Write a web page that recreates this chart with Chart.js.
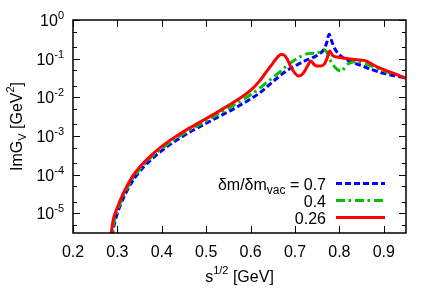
<!DOCTYPE html>
<html>
<head>
<meta charset="utf-8">
<script src="https://cdn.jsdelivr.net/npm/chart.js@4"></script>
<style>
  html, body { margin: 0; padding: 0; background: #fff; }
  canvas { display: block; }
</style>
</head>
<body>
<canvas id="plot" width="436" height="305"></canvas>
<script>
// axis ticks
const xTicks = [0.2, 0.3, 0.4, 0.5, 0.6, 0.7, 0.8, 0.9];
const yTicks = [1, 1e-1, 1e-2, 1e-3, 1e-4, 1e-5];
const yExponents = ['0', '-1', '-2', '-3', '-4', '-5'];
const yMinorTicks = [5e-1, 2e-1, 5e-2, 2e-2, 5e-3, 2e-3, 5e-4, 2e-4, 5e-5, 2e-5, 5e-6];

// dm/dm_vac = 0.7
const blueX = [0.285, 0.29, 0.30, 0.31, 0.32, 0.33, 0.34, 0.36, 0.38, 0.40, 0.42, 0.44, 0.46, 0.48, 0.50, 0.52, 0.54, 0.56, 0.58, 0.60, 0.62, 0.64, 0.66, 0.68, 0.70, 0.72, 0.74, 0.755, 0.765, 0.771, 0.777, 0.783, 0.79, 0.80, 0.82, 0.85, 0.87, 0.90, 0.95];
const blueY = [1.5e-6, 3.55e-6, 1.0e-5, 2.0e-5, 3.55e-5, 5.75e-5, 8.51e-5, 1.62e-4, 2.69e-4, 4.17e-4, 6.17e-4, 8.71e-4, 1.2e-3, 1.62e-3, 2.14e-3, 2.82e-3, 3.72e-3, 4.9e-3, 6.61e-3, 9.12e-3, 0.0129, 0.02, 0.0316, 0.0479, 0.0646, 0.0851, 0.107, 0.132, 0.174, 0.251, 0.427, 0.275, 0.178, 0.126, 0.0891, 0.0661, 0.0537, 0.0417, 0.0316];

// dm/dm_vac = 0.4
const greenX = [0.284, 0.29, 0.30, 0.31, 0.32, 0.33, 0.34, 0.36, 0.38, 0.40, 0.42, 0.44, 0.46, 0.48, 0.50, 0.52, 0.54, 0.56, 0.58, 0.60, 0.62, 0.64, 0.66, 0.68, 0.70, 0.715, 0.73, 0.75, 0.765, 0.773, 0.78, 0.79, 0.80, 0.806, 0.812, 0.82, 0.84, 0.87, 0.90, 0.95];
const greenY = [1.5e-6, 4.47e-6, 1.17e-5, 2.34e-5, 4.07e-5, 6.61e-5, 9.77e-5, 1.86e-4, 3.09e-4, 4.79e-4, 7.08e-4, 1.0e-3, 1.38e-3, 1.86e-3, 2.45e-3, 3.31e-3, 4.47e-3, 6.03e-3, 8.32e-3, 0.0117, 0.017, 0.0263, 0.0398, 0.0631, 0.0933, 0.117, 0.135, 0.141, 0.17, 0.141, 0.0891, 0.0603, 0.049, 0.0479, 0.0603, 0.0741, 0.0832, 0.0661, 0.049, 0.0316];

// dm/dm_vac = 0.26
const redX = [0.283, 0.29, 0.30, 0.31, 0.32, 0.33, 0.34, 0.36, 0.38, 0.40, 0.42, 0.44, 0.46, 0.48, 0.50, 0.52, 0.54, 0.56, 0.58, 0.60, 0.62, 0.635, 0.65, 0.66, 0.668, 0.675, 0.682, 0.69, 0.70, 0.708, 0.715, 0.722, 0.73, 0.736, 0.743, 0.75, 0.758, 0.766, 0.772, 0.778, 0.785, 0.795, 0.82, 0.84, 0.86, 0.87, 0.89, 0.92, 0.95];
const redY = [1.5e-6, 6.31e-6, 1.41e-5, 2.69e-5, 4.68e-5, 7.59e-5, 1.12e-4, 2.09e-4, 3.47e-4, 5.37e-4, 7.94e-4, 1.12e-3, 1.55e-3, 2.09e-3, 2.82e-3, 3.8e-3, 5.25e-3, 7.24e-3, 0.0102, 0.0151, 0.0263, 0.0447, 0.0759, 0.107, 0.129, 0.126, 0.1, 0.0631, 0.0417, 0.0355, 0.038, 0.0479, 0.0708, 0.0871, 0.0708, 0.0646, 0.0646, 0.0724, 0.1, 0.158, 0.12, 0.11, 0.1, 0.0933, 0.0871, 0.0759, 0.0575, 0.0427, 0.0309];

const legendLabels = ['0.7', '0.4', '0.26'];
const FONT = '"Liberation Sans", Arial, sans-serif';

const toPoints = (xs, ys) => xs.map((x, i) => ({x: x, y: ys[i]}));

// draws a list of text runs, each {t, size, dy}
const drawRuns = (ctx, runs, x, y, align) => {
    let total = 0;
    runs.forEach((r) => {
        ctx.font = r.size + 'px ' + FONT;
        r.w = ctx.measureText(r.t).width;
        total += r.w;
    });
    let cx = x;
    if (align === 'right') cx = x - total;
    if (align === 'center') cx = x - total / 2;
    ctx.textAlign = 'left';
    ctx.textBaseline = 'alphabetic';
    runs.forEach((r) => {
        ctx.font = r.size + 'px ' + FONT;
        ctx.fillText(r.t, cx, y + (r.dy || 0));
        cx += r.w;
    });
}

const framePlugin = {
    id: 'frame',
    afterDraw(chart) {
        const ctx = chart.ctx;
        const a = chart.chartArea;
        const xs = chart.scales.x;
        const ys = chart.scales.y;
        ctx.save();
        ctx.strokeStyle = '#000';
        ctx.fillStyle = '#000';
        ctx.lineWidth = 1;

        // ticks on all four sides, pointing inwards
        ctx.beginPath();
        xTicks.forEach((v) => {
            const px = Math.round(xs.getPixelForValue(v)) + 0.5;
            ctx.moveTo(px, a.bottom); ctx.lineTo(px, a.bottom - 7);
            ctx.moveTo(px, a.top); ctx.lineTo(px, a.top + 7);
        });
        yTicks.forEach((v) => {
            const py = Math.round(ys.getPixelForValue(v)) + 0.5;
            ctx.moveTo(a.left, py); ctx.lineTo(a.left + 7, py);
            ctx.moveTo(a.right, py); ctx.lineTo(a.right - 7, py);
        });
        yMinorTicks.forEach((v) => {
            const py = Math.round(ys.getPixelForValue(v)) + 0.5;
            ctx.moveTo(a.left, py); ctx.lineTo(a.left + 4, py);
            ctx.moveTo(a.right, py); ctx.lineTo(a.right - 4, py);
        });
        ctx.stroke();

        ctx.lineWidth = 1.5;
        ctx.strokeRect(a.left, a.top, a.right - a.left, a.bottom - a.top);

        // tick labels
        xTicks.forEach((v) => {
            drawRuns(ctx, [{t: v.toFixed(1), size: 16}], xs.getPixelForValue(v), a.bottom + 24, 'center');
        });
        yTicks.forEach((v, i) => {
            const py = ys.getPixelForValue(v);
            drawRuns(ctx, [{t: '10', size: 16}, {t: yExponents[i], size: 11, dy: -7}], 64, py + 6, 'right');
        });

        // axis titles
        drawRuns(ctx, [{t: 's', size: 16}, {t: '1/2', size: 11, dy: -8}, {t: ' [GeV]', size: 16}],
            (a.left + a.right) / 2, 282, 'center');
        ctx.save();
        ctx.translate(22, (a.top + a.bottom) / 2);
        ctx.rotate(-Math.PI / 2);
        drawRuns(ctx, [{t: 'ImG', size: 16}, {t: 'V', size: 11, dy: 4}, {t: ' [GeV', size: 16},
            {t: '2', size: 11, dy: -8}, {t: ']', size: 16}], 0, 0, 'center');
        ctx.restore();

        // legend
        const rows = [183.5, 200.5, 217.5];
        const sets = chart.data.datasets;
        legendLabels.forEach((lab, i) => {
            const runs = i === 0
                ? [{t: '\u03b4m/\u03b4m', size: 16}, {t: 'vac', size: 12, dy: 4}, {t: ' = ' + lab, size: 16}]
                : [{t: lab, size: 16}];
            drawRuns(ctx, runs, 326, rows[i] + 6, 'right');
            const ds = sets[i];
            ctx.beginPath();
            ctx.strokeStyle = ds.borderColor;
            ctx.lineWidth = ds.borderWidth;
            ctx.setLineDash(ds.borderDash || []);
            ctx.moveTo(336, rows[i]);
            ctx.lineTo(385, rows[i]);
            ctx.stroke();
        });
        ctx.restore();
    }
};

const canvas = document.getElementById('plot');

const data = {
    datasets: [
        {
            label: '0.7',
            data: toPoints(blueX, blueY),
            borderColor: '#0000ff',
            borderWidth: 3,
            borderDash: [6, 3],
            order: 2
        },
        {
            label: '0.4',
            data: toPoints(greenX, greenY),
            borderColor: '#00c000',
            borderWidth: 3,
            borderDash: [9, 3.5, 2.5, 4],
            order: 1
        },
        {
            label: '0.26',
            data: toPoints(redX, redY),
            borderColor: '#ff0000',
            borderWidth: 3,
            order: 0
        }
    ]
};

const config = {
    type: 'line',
    data,
    options: {
        responsive: false,
        animation: false,
        layout: {padding: {left: 73, right: 30, top: 20, bottom: 72}},
        elements: {
            point: {radius: 0},
            line: {cubicInterpolationMode: 'monotone', borderCapStyle: 'butt', borderJoinStyle: 'round'}
        },
        plugins: {legend: {display: false}, tooltip: {enabled: false}},
        scales: {
            x: {type: 'linear', min: 0.2, max: 0.95, display: false},
            y: {type: 'logarithmic', min: 3.1e-6, max: 1, display: false}
        }
    },
    plugins: [framePlugin]
};

const plot = new Chart(canvas, config);
</script>
</body>
</html>
